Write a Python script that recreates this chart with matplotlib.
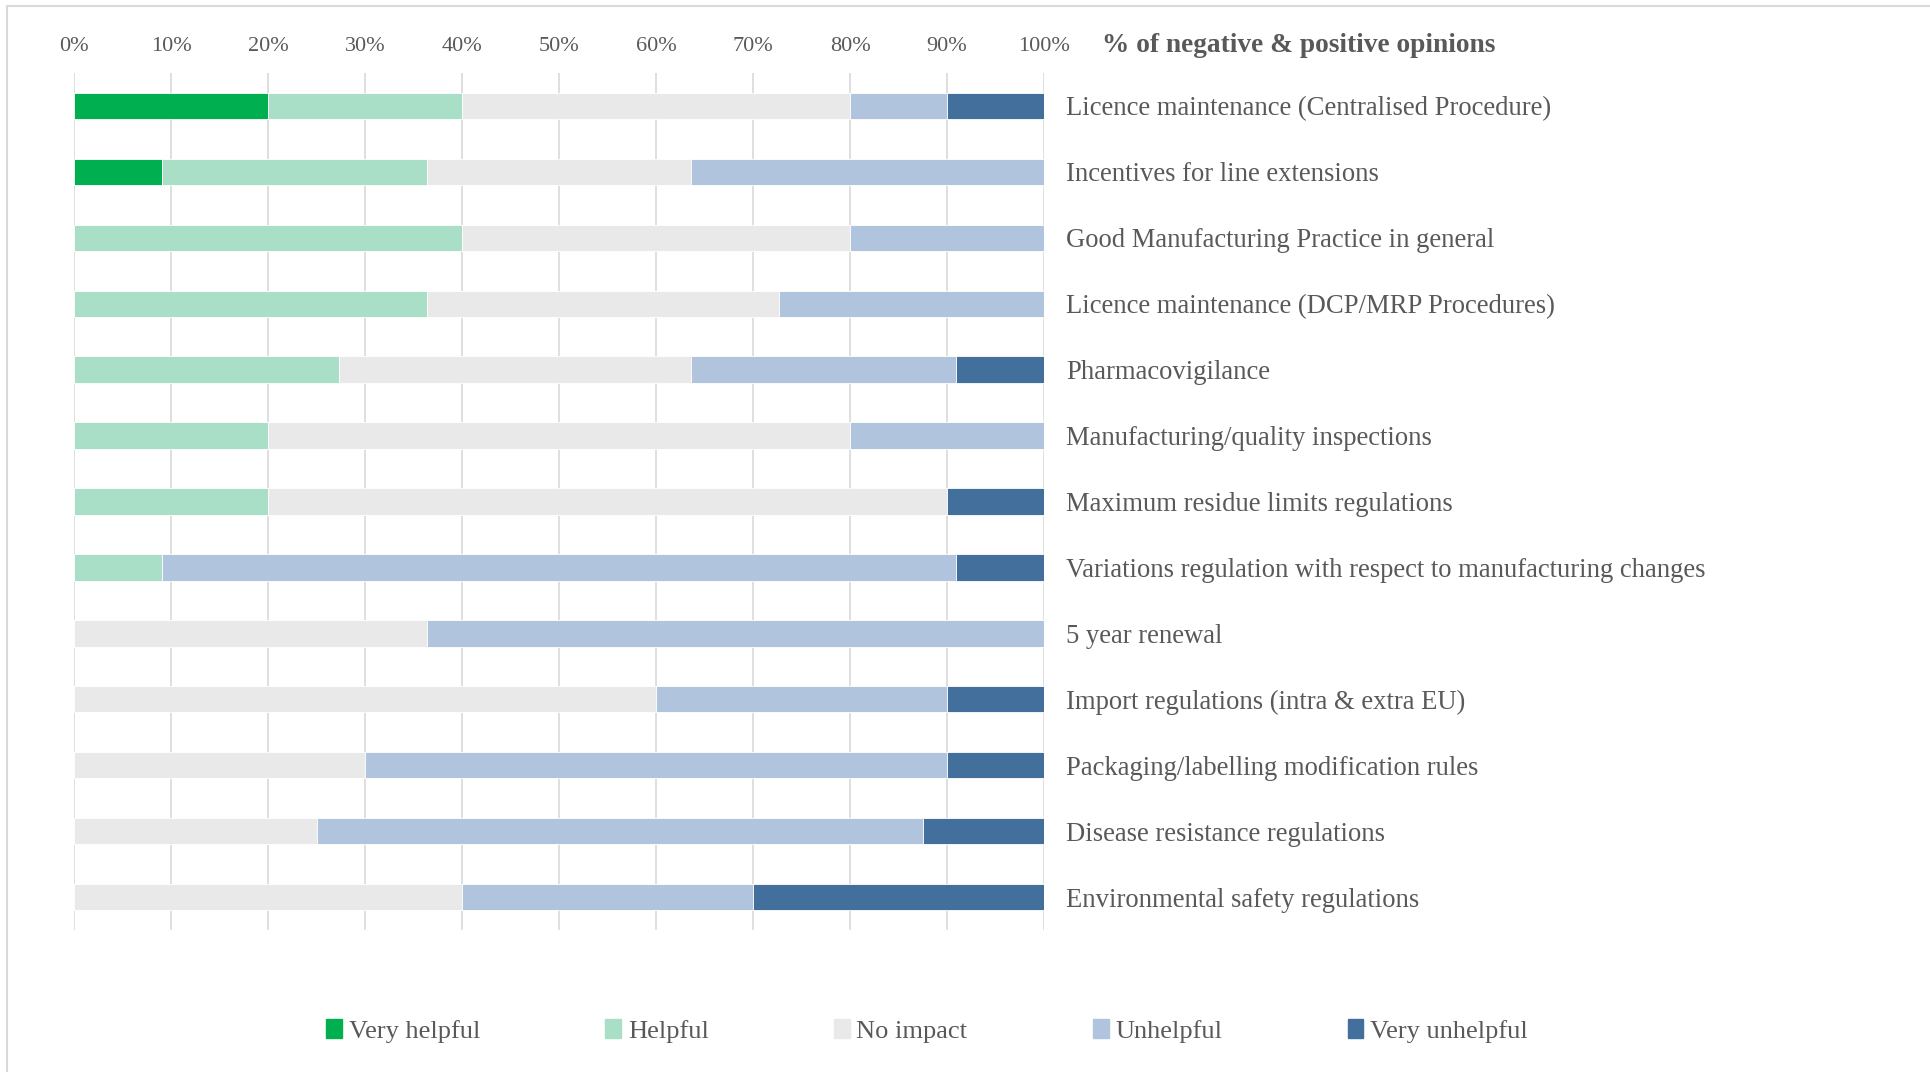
import matplotlib.pyplot as plt
import matplotlib.patches as mpatches
import numpy as np

categories = [
    'Licence maintenance (Centralised Procedure)',
    'Incentives for line extensions',
    'Good Manufacturing Practice in general',
    'Licence maintenance (DCP/MRP Procedures)',
    'Pharmacovigilance',
    'Manufacturing/quality inspections',
    'Maximum residue limits regulations',
    'Variations regulation with respect to manufacturing changes',
    '5 year renewal',
    'Import regulations (intra & extra EU)',
    'Packaging/labelling modification rules',
    'Disease resistance regulations',
    'Environmental safety regulations',
]
very_helpful = [20, 9.09, 0, 0, 0, 0, 0, 0, 0, 0, 0, 0, 0]
helpful = [20, 27.27, 40, 36.36, 27.27, 20, 20, 9.09, 0, 0, 0, 0, 0]
no_impact = [40, 27.27, 40, 36.36, 36.36, 60, 70, 0, 36.36, 60, 30, 25, 40]
unhelpful = [10, 36.36, 20, 27.27, 27.27, 20, 0, 81.82, 63.64, 30, 60, 62.5, 30]
very_unhelpful = [10, 0, 0, 0, 9.09, 0, 10, 9.09, 0, 10, 10, 12.5, 30]

series = ['Very helpful', 'Helpful', 'No impact', 'Unhelpful', 'Very unhelpful']
colors = ['#00B050', '#A9DFC6', '#E9E9E9', '#B0C5DD', '#426F9B']
values = [very_helpful, helpful, no_impact, unhelpful, very_unhelpful]

text_col = '#595959'
plt.rcParams['font.family'] = ['Liberation Serif', 'DejaVu Serif']

fig = plt.figure(figsize=(19.3, 10.72), dpi=100)
ax = fig.add_axes([74 / 1930, 1 - 930 / 1072, 970 / 1930, 857 / 1072])

y = np.arange(len(categories))
left = np.zeros(len(categories))
for name, col, vals in zip(series, colors, values):
    vals = np.array(vals)
    ax.barh(y, vals, left=left, height=0.4, color=col, edgecolor='white',
            linewidth=0.6, label=name, zorder=3)
    left += vals

ax.set_xlim(0, 100)
ax.set_ylim(len(categories) - 0.5, -0.5)
ax.set_xticks(np.arange(0, 101, 10))
ax.set_xticklabels(['%d%%' % v for v in range(0, 101, 10)])
ax.xaxis.tick_top()
ax.tick_params(axis='x', length=0, pad=12, labelsize=16, labelcolor=text_col)
ax.grid(axis='x', color='#D9D9D9', linewidth=1.2, zorder=0)
ax.set_axisbelow(True)

ax.yaxis.tick_right()
ax.set_yticks(y)
ax.set_yticklabels(categories)
ax.tick_params(axis='y', length=0, pad=16, labelsize=19.2, labelcolor=text_col)
for s in ax.spines.values():
    s.set_visible(False)

fig.text(1102 / 1930, 1 - 46 / 1072, '% of negative & positive opinions',
         fontsize=19.7, fontweight='bold', color=text_col, va='center', ha='left')

handles = [mpatches.Patch(color=c, label=n) for n, c in zip(series, colors)]
leg = fig.legend(handles=handles, loc='center', ncol=5, frameon=False,
                 bbox_to_anchor=(927 / 1930, 1 - 1031 / 1072),
                 fontsize=19, handlelength=0.6, handleheight=0.75,
                 handletextpad=0.25, columnspacing=4.75)
for t in leg.get_texts():
    t.set_color(text_col)

# outer chart border
fig.patches.append(mpatches.Rectangle((7 / 1930, -0.1), 1.2, 1 - 6 / 1072 + 0.1,
                                      transform=fig.transFigure, fill=False,
                                      edgecolor='#D9D9D9', linewidth=1.5))

fig.savefig('out.png', dpi=100)
